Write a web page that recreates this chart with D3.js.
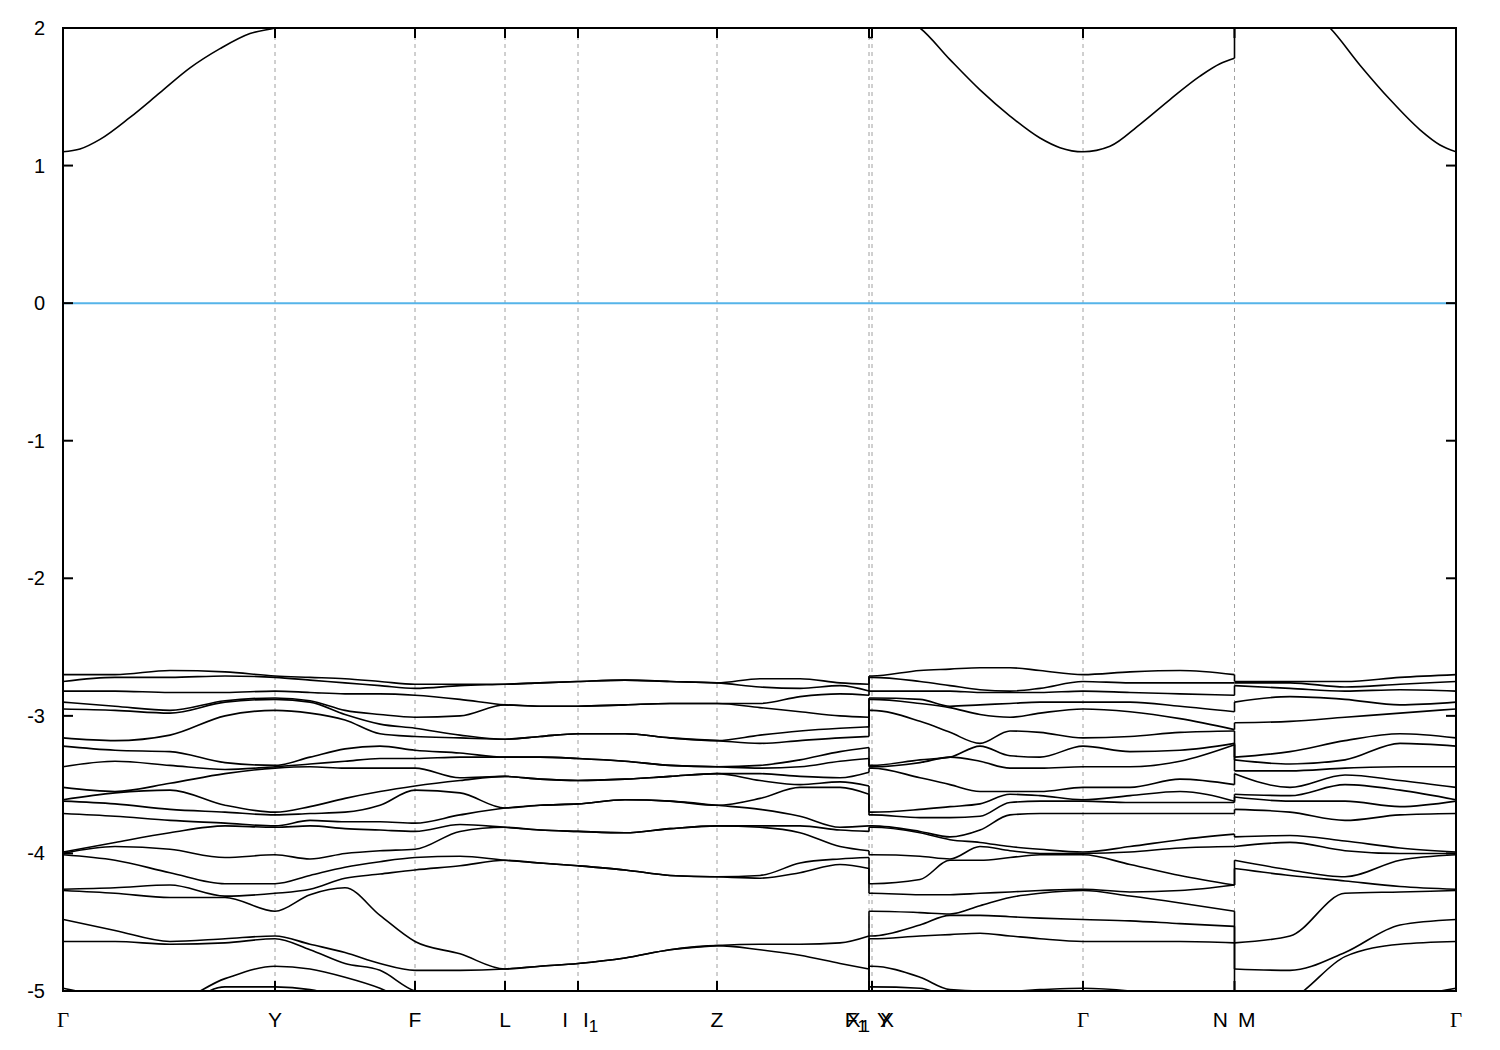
<!DOCTYPE html>
<html><head><meta charset="utf-8">
<script src="https://cdn.jsdelivr.net/npm/d3@7"></script>
<style>body{margin:0;background:#fff} svg{display:block}</style>
</head><body><svg id="c" width="1500" height="1050"></svg>
<script>
// ---------- data ----------
const kTicks  = [0, 2.12, 3.52, 4.42, 5.15, 6.54, 8.06, 8.09, 10.20, 11.715, 13.93];
const kLabels = ["Γ","Y","F","L","I|I_1","Z","F_1|Y","X_1|X","Γ","N|M","Γ"];
const yTicks  = [2, 1, 0, -1, -2, -3, -4, -5];
const fermiLevel = 0;

const GammaE = [-2.70,-2.75,-2.82,-2.90,-2.95,-3.16,-3.22,-3.37,-3.52,-3.61,-3.62,-3.71,-3.99,-4.00,-4.01,-4.26,-4.27,-4.48,-4.64,-4.98,-5.15,-5.30];
const YE     = [-2.71,-2.72,-2.82,-2.87,-2.88,-2.96,-3.36,-3.37,-3.38,-3.70,-3.72,-3.80,-3.81,-4.01,-4.22,-4.29,-4.42,-4.60,-4.62,-4.82,-4.97,-5.20];

// k positions of sampled columns (a repeated k marks a jump in the path)
const kSamples = [0.00,0.52,1.07,1.62,2.12,2.47,2.82,3.17,3.52,3.97,4.42,4.77,5.15,5.62,6.07,6.54,6.97,7.37,7.77,8.06,
                  8.06,8.09,8.57,8.87,9.17,9.47,9.77,10.20,10.67,11.17,11.715,
                  11.715,12.27,12.82,13.37,13.93];

// valence energies (eV), one sorted row per sampled column
const valence = [
  GammaE,
  [-2.70,-2.72,-2.82,-2.93,-2.96,-3.18,-3.25,-3.33,-3.55,-3.56,-3.64,-3.73,-3.92,-3.95,-4.05,-4.25,-4.29,-4.56,-4.64,-5.05,-5.20,-5.35],
  [-2.67,-2.72,-2.83,-2.96,-2.98,-3.14,-3.26,-3.36,-3.49,-3.54,-3.68,-3.76,-3.85,-3.97,-4.14,-4.23,-4.32,-4.64,-4.66,-5.08,-5.15,-5.30],
  [-2.68,-2.71,-2.83,-2.89,-2.90,-3.00,-3.34,-3.39,-3.42,-3.65,-3.70,-3.78,-3.80,-4.03,-4.22,-4.31,-4.32,-4.62,-4.65,-4.91,-4.97,-5.20],
  YE,
  [-2.72,-2.74,-2.83,-2.89,-2.90,-2.98,-3.30,-3.35,-3.37,-3.66,-3.71,-3.76,-3.80,-4.04,-4.16,-4.26,-4.30,-4.66,-4.70,-4.84,-4.99,-5.20],
  [-2.73,-2.76,-2.84,-2.96,-2.99,-3.03,-3.24,-3.33,-3.38,-3.60,-3.70,-3.77,-3.82,-4.00,-4.10,-4.18,-4.25,-4.72,-4.80,-4.90,-5.05,-5.25],
  [-2.75,-2.78,-2.84,-2.99,-3.06,-3.13,-3.22,-3.31,-3.38,-3.55,-3.65,-3.77,-3.83,-3.98,-4.06,-4.15,-4.45,-4.80,-4.85,-4.98,-5.10,-5.30],
  [-2.77,-2.80,-2.85,-3.01,-3.09,-3.15,-3.25,-3.31,-3.38,-3.51,-3.54,-3.78,-3.84,-3.97,-4.03,-4.12,-4.64,-4.85,-5.00,-5.10,-5.20,-5.30],
  [-2.77,-2.78,-2.88,-3.00,-3.14,-3.16,-3.27,-3.30,-3.45,-3.47,-3.56,-3.72,-3.79,-3.84,-4.02,-4.09,-4.73,-4.85,-5.05,-5.15,-5.25,-5.35],
  [-2.77,-2.77,-2.92,-2.92,-3.17,-3.17,-3.30,-3.30,-3.44,-3.44,-3.67,-3.67,-3.81,-3.81,-4.05,-4.05,-4.84,-4.84,-5.10,-5.10,-5.30,-5.30],
  [-2.76,-2.76,-2.93,-2.93,-3.15,-3.15,-3.30,-3.30,-3.46,-3.46,-3.65,-3.65,-3.83,-3.83,-4.07,-4.07,-4.82,-4.82,-5.10,-5.10,-5.30,-5.30],
  [-2.75,-2.75,-2.93,-2.93,-3.13,-3.13,-3.31,-3.31,-3.47,-3.47,-3.64,-3.64,-3.84,-3.84,-4.09,-4.09,-4.80,-4.80,-5.10,-5.10,-5.30,-5.30],
  [-2.74,-2.74,-2.92,-2.92,-3.13,-3.13,-3.33,-3.33,-3.46,-3.46,-3.61,-3.61,-3.85,-3.85,-4.12,-4.12,-4.76,-4.76,-5.10,-5.10,-5.30,-5.30],
  [-2.75,-2.75,-2.91,-2.91,-3.16,-3.16,-3.36,-3.36,-3.44,-3.44,-3.62,-3.62,-3.82,-3.82,-4.16,-4.16,-4.70,-4.70,-5.10,-5.10,-5.30,-5.30],
  [-2.76,-2.76,-2.91,-2.91,-3.18,-3.18,-3.37,-3.37,-3.42,-3.42,-3.65,-3.65,-3.80,-3.80,-4.17,-4.17,-4.67,-4.67,-5.10,-5.10,-5.30,-5.30],
  [-2.73,-2.79,-2.91,-2.94,-3.14,-3.20,-3.36,-3.38,-3.42,-3.47,-3.60,-3.68,-3.80,-3.81,-4.16,-4.18,-4.66,-4.70,-5.10,-5.15,-5.30,-5.35],
  [-2.73,-2.80,-2.86,-2.97,-3.11,-3.18,-3.32,-3.37,-3.44,-3.50,-3.52,-3.73,-3.80,-3.85,-4.07,-4.14,-4.66,-4.74,-5.10,-5.20,-5.30,-5.40],
  [-2.76,-2.78,-2.84,-3.00,-3.09,-3.16,-3.26,-3.33,-3.45,-3.48,-3.52,-3.81,-3.83,-3.95,-4.04,-4.08,-4.65,-4.80,-5.10,-5.20,-5.30,-5.40],
  [-2.77,-2.82,-2.85,-3.01,-3.08,-3.15,-3.23,-3.31,-3.41,-3.51,-3.57,-3.80,-3.84,-3.98,-4.03,-4.11,-4.60,-4.84,-5.05,-5.15,-5.25,-5.35],
  YE,
  YE,
  [-2.67,-2.75,-2.82,-2.88,-2.91,-3.04,-3.32,-3.34,-3.45,-3.68,-3.74,-3.84,-3.85,-4.02,-4.19,-4.30,-4.43,-4.52,-4.60,-4.90,-4.98,-5.25],
  [-2.66,-2.78,-2.82,-2.93,-2.94,-3.12,-3.30,-3.30,-3.50,-3.66,-3.74,-3.88,-3.90,-4.04,-4.05,-4.30,-4.44,-4.45,-4.59,-4.99,-5.05,-5.30],
  [-2.65,-2.81,-2.83,-2.92,-2.99,-3.20,-3.22,-3.33,-3.55,-3.64,-3.73,-3.83,-3.92,-3.95,-4.05,-4.29,-4.38,-4.45,-4.58,-5.00,-5.10,-5.30],
  [-2.65,-2.82,-2.83,-2.91,-3.01,-3.11,-3.29,-3.38,-3.55,-3.57,-3.63,-3.72,-3.95,-3.98,-4.03,-4.28,-4.32,-4.46,-4.60,-5.00,-5.10,-5.30],
  [-2.67,-2.80,-2.83,-2.90,-2.98,-3.12,-3.30,-3.38,-3.55,-3.58,-3.62,-3.71,-3.97,-4.00,-4.01,-4.27,-4.29,-4.47,-4.62,-4.99,-5.10,-5.30],
  GammaE,
  [-2.68,-2.76,-2.83,-2.90,-2.97,-3.15,-3.26,-3.37,-3.52,-3.58,-3.63,-3.71,-3.95,-3.99,-4.08,-4.28,-4.31,-4.49,-4.64,-5.00,-5.15,-5.30],
  [-2.67,-2.76,-2.84,-2.93,-3.02,-3.12,-3.25,-3.33,-3.46,-3.55,-3.63,-3.71,-3.90,-3.96,-4.16,-4.27,-4.36,-4.51,-4.64,-5.05,-5.15,-5.30],
  [-2.70,-2.76,-2.85,-2.97,-3.10,-3.11,-3.20,-3.21,-3.50,-3.62,-3.63,-3.71,-3.86,-3.95,-4.23,-4.23,-4.42,-4.53,-4.65,-5.10,-5.20,-5.30],
  [-2.75,-2.76,-2.78,-2.90,-3.05,-3.30,-3.32,-3.40,-3.42,-3.57,-3.59,-3.68,-3.88,-3.95,-4.05,-4.11,-4.65,-4.84,-5.10,-5.20,-5.30,-5.40],
  [-2.75,-2.76,-2.80,-2.86,-3.04,-3.26,-3.35,-3.40,-3.52,-3.58,-3.62,-3.70,-3.87,-3.92,-4.12,-4.16,-4.60,-4.85,-5.05,-5.20,-5.30,-5.40],
  [-2.75,-2.79,-2.82,-2.88,-3.01,-3.18,-3.32,-3.38,-3.43,-3.50,-3.62,-3.76,-3.91,-3.98,-4.17,-4.20,-4.29,-4.72,-4.75,-5.10,-5.20,-5.30],
  [-2.72,-2.77,-2.81,-2.92,-2.98,-3.13,-3.20,-3.37,-3.47,-3.54,-3.66,-3.72,-3.96,-4.00,-4.05,-4.24,-4.28,-4.52,-4.66,-5.05,-5.20,-5.30],
  GammaE
];

// conduction band
const conductionK = [0,0.17,0.37,0.67,0.97,1.27,1.57,1.87,2.12,2.5,3.52,5.15,6.54,8.06,
                     8.06,8.09,
                     8.09,8.3,8.57,8.87,9.17,9.47,9.77,9.97,10.20,10.47,10.77,11.07,11.37,11.57,11.715,
                     11.715,12.3,12.67,12.97,13.27,13.57,13.77,13.93];
const conductionE = [1.10,1.12,1.19,1.35,1.53,1.71,1.85,1.96,2.00,2.08,2.20,2.25,2.25,2.15,
                     1.93,1.93,
                     2.15,2.10,2.00,1.77,1.55,1.36,1.20,1.13,1.10,1.14,1.30,1.48,1.65,1.74,1.78,
                     2.30,2.20,2.00,1.73,1.48,1.26,1.15,1.10];

// ---------- drawing ----------
const L = 63, R = 1456, T = 28, B = 991;
const x = d3.scaleLinear().domain([kTicks[0], kTicks[kTicks.length-1]]).range([L, R]);
const y = d3.scaleLinear().domain([-5, 2]).range([B, T]);
const svg = d3.select('#c');

svg.append('defs').append('clipPath').attr('id','clip')
  .append('rect').attr('x', L).attr('y', T).attr('width', R-L).attr('height', B-T);

svg.append('g').selectAll('line').data(kTicks.slice(1, -1)).join('line')
  .attr('x1', d => x(d)).attr('x2', d => x(d)).attr('y1', T).attr('y2', B)
  .attr('stroke', '#a0a0a0').attr('stroke-width', 1).attr('stroke-dasharray', '4,4');

svg.append('line').attr('x1', L).attr('x2', R).attr('y1', y(fermiLevel)).attr('y2', y(fermiLevel))
  .attr('stroke', '#56b4e9').attr('stroke-width', 2);

const gB = svg.append('g').attr('clip-path', 'url(#clip)')
  .attr('fill', 'none').attr('stroke', '#000').attr('stroke-width', 1.6).attr('stroke-linejoin','round');
const lineGen = d3.line().x(d => x(d[0])).y(d => y(d[1])).curve(d3.curveMonotoneX);

function drawSeries(pts) {
  const pieces = []; let cur = [pts[0]];
  for (let i = 1; i < pts.length; i++) {
    if (pts[i][0] === pts[i-1][0]) { pieces.push(cur); cur = [pts[i]]; }
    else cur.push(pts[i]);
  }
  pieces.push(cur);
  pieces.forEach((p, i) => {
    if (p.length > 1) gB.append('path').attr('d', lineGen(p));
    if (i > 0) {
      const a = pieces[i-1][pieces[i-1].length-1], b = p[0];
      gB.append('line').attr('x1', x(a[0])).attr('x2', x(b[0])).attr('y1', y(a[1])).attr('y2', y(b[1]));
    }
  });
}

const nBands = valence[0].length;
for (let b = 0; b < nBands; b++) drawSeries(kSamples.map((k, i) => [k, valence[i][b]]));
drawSeries(conductionK.map((k, i) => [k, conductionE[i]]));

svg.append('rect').attr('x', L).attr('y', T).attr('width', R-L).attr('height', B-T)
  .attr('fill', 'none').attr('stroke', '#000').attr('stroke-width', 2);

const tk = svg.append('g').attr('stroke', '#000').attr('stroke-width', 2);
yTicks.forEach(v => {
  tk.append('line').attr('x1', L).attr('x2', L+10).attr('y1', y(v)).attr('y2', y(v));
  tk.append('line').attr('x1', R).attr('x2', R-10).attr('y1', y(v)).attr('y2', y(v));
});
kTicks.forEach(k => {
  tk.append('line').attr('x1', x(k)).attr('x2', x(k)).attr('y1', B).attr('y2', B-10);
  tk.append('line').attr('x1', x(k)).attr('x2', x(k)).attr('y1', T).attr('y2', T+10);
});

svg.append('g').selectAll('text').data(yTicks).join('text')
  .attr('x', 45).attr('y', d => y(d) + 7).attr('text-anchor', 'end')
  .attr('font-family', 'Liberation Sans, Arial, sans-serif').attr('font-size', 20)
  .text(d => String(d));

const labelY = 1027;
function drawPart(s, px, anchor) {
  const m = s.split('_');
  const t = svg.append('text').attr('x', px).attr('y', labelY).attr('text-anchor', anchor)
    .attr('font-size', 21)
    .attr('font-family', m[0] === 'Γ' ? 'Liberation Serif, Times New Roman, serif' : 'Liberation Sans, Arial, sans-serif');
  t.append('tspan').text(m[0]);
  if (m[1]) t.append('tspan').attr('dy', 5).attr('font-size', 17).text(m[1]);
}
const splitLayout = { "I|I_1": [15, -2.5], "F_1|Y": [10, 3], "X_1|X": [10, 3], "N|M": [10, -1.5] };
kTicks.forEach((k, i) => {
  const lab = kLabels[i];
  const cx = x(k);
  if (lab.indexOf('|') < 0) { drawPart(lab, cx, 'middle'); return; }
  const [gap, shift] = splitLayout[lab];
  const [a, b] = lab.split('|');
  drawPart(a, cx + shift - gap/2, 'end');
  drawPart(b, cx + shift + gap/2, 'start');
});
</script></body></html>
